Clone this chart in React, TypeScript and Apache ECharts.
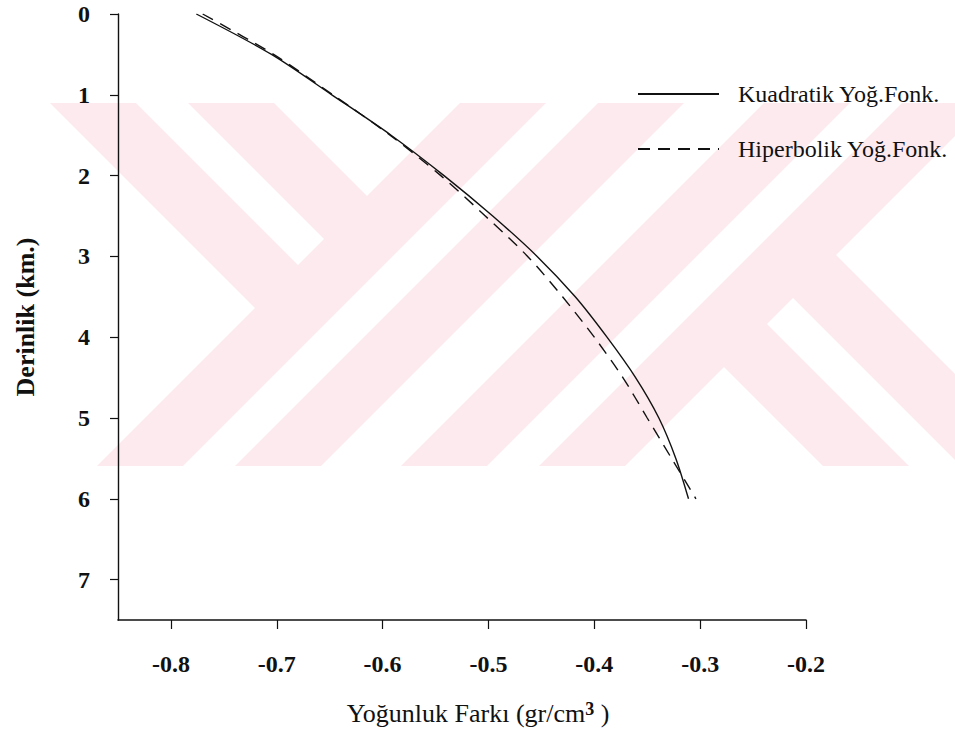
import React, { useEffect, useRef } from 'react';
import * as echarts from 'echarts';

// ---- data ----
const depthKm = [0, 0.5, 1, 1.5, 2, 2.5, 3, 3.5, 4, 4.5, 5, 5.5, 6];
const kuadratik = [-0.776, -0.705, -0.648, -0.592, -0.542, -0.496, -0.454, -0.418, -0.388, -0.361, -0.339, -0.323, -0.311];
const hiperbolik = [-0.770, -0.703, -0.647, -0.593, -0.545, -0.503, -0.463, -0.430, -0.400, -0.373, -0.350, -0.327, -0.304];
const xTicks = [-0.8, -0.7, -0.6, -0.5, -0.4, -0.3, -0.2];
const yTicks = [0, 1, 2, 3, 4, 5, 6, 7];
const seriesNames = ['Kuadratik Yoğ.Fonk.', 'Hiperbolik Yoğ.Fonk.'];
const xTitle = 'Yoğunluk Farkı (gr/cm{s|3}{n| )}';
const yTitle = 'Derinlik (km.)';

// ---- watermark geometry (pixel layout of the scanned background) ----
const WM_TOP = 103;
const WM_BOTTOM = 466;
// [centreX, centreY, which half of the "\" arm is present: -1 upper-left, 1 lower-right]
const WM_CROSSES = [
  [367, 308, -1],
  [724, 255, 1],
];
const WM_HALF = 112;
const WM_STRIPE = 26;
const PINK = '#fdeaee';
const INK = '#111';
const FONT = 'Liberation Serif, Times New Roman, serif';

function buildWatermark() {
  const T = WM_TOP;
  const B = WM_BOTTOM;
  const h = WM_HALF;
  const s = WM_STRIPE;
  const I = (p: number, q: number) => [(p + q) / 2, (q - p) / 2];
  const pinks: any[] = [];
  const whites: any[] = [];
  WM_CROSSES.forEach(([cx, cy, half]) => {
    const c0 = cx - cy;
    const c1 = cx + cy;
    pinks.push([[c1 - h - T, T], [c1 + h - T, T], [c1 + h - B, B], [c1 - h - B, B]]);
    whites.push([[c1 - s - T, T], [c1 + s - T, T], [c1 + s - B, B], [c1 - s - B, B]]);
    if (half < 0) {
      pinks.push([[c0 - h + T, T], [c0 + h + T, T], I(c0 + h, c1), I(c0 - h, c1)]);
      whites.push([[c0 - s + T, T], [c0 + s + T, T], I(c0 + s, c1 - h), I(c0 - s, c1 - h)]);
    } else {
      pinks.push([I(c0 - h, c1), I(c0 + h, c1), [c0 + h + B, B], [c0 - h + B, B]]);
      whites.push([I(c0 - s, c1 + h), I(c0 + s, c1 + h), [c0 + s + B, B], [c0 - s + B, B]]);
    }
  });
  const els: any[] = [];
  pinks.forEach((pts) =>
    els.push({ type: 'polygon', silent: true, z: -20, shape: { points: pts }, style: { fill: PINK } })
  );
  whites.forEach((pts) =>
    els.push({ type: 'polygon', silent: true, z: -19, shape: { points: pts }, style: { fill: '#ffffff' } })
  );
  return els;
}

export default function App() {
  const ref = useRef<HTMLDivElement>(null);

  useEffect(() => {
    document.body.style.margin = '0';
    if (!ref.current) return;
    const chart = echarts.init(ref.current, undefined, { renderer: 'svg' });

    const toPairs = (vals: number[]) => vals.map((v, i) => [v, depthKm[i]]);

    chart.setOption({
      animation: false,
      backgroundColor: '#ffffff',
      textStyle: { fontFamily: FONT },
      graphic: { elements: buildWatermark() },
      grid: { left: 118, right: 149, top: 14, bottom: 114, containLabel: false },
      legend: {
        orient: 'vertical',
        left: 632,
        top: 76,
        itemWidth: 81,
        itemHeight: 14,
        itemGap: 29,
        data: seriesNames,
        itemStyle: { opacity: 0 },
        textStyle: {
          fontFamily: FONT,
          fontSize: 24,
          color: INK,
          lineHeight: 26,
          padding: [0, 0, 0, 14],
        },
      },
      xAxis: {
        type: 'value',
        min: -0.85,
        max: -0.2,
        name: xTitle,
        nameLocation: 'middle',
        nameGap: 80,
        nameTextStyle: {
          fontFamily: FONT,
          fontSize: 26,
          color: INK,
          padding: [0, 0, 0, 32],
          rich: {
            s: { fontFamily: FONT, fontSize: 18, fontWeight: 'bold', color: INK, verticalAlign: 'top' },
            n: { fontFamily: FONT, fontSize: 26, color: INK },
          },
        },
        axisLine: { show: true, onZero: false, lineStyle: { color: INK, width: 1.6 } },
        axisTick: { show: true, length: 9, inside: false, customValues: xTicks, lineStyle: { color: INK, width: 1.2 } },
        axisLabel: {
          customValues: xTicks,
          margin: 32,
          fontFamily: FONT,
          fontSize: 24,
          fontWeight: 'bold',
          color: INK,
          formatter: (v: number) => v.toFixed(1),
        },
        splitLine: { show: false },
      },
      yAxis: {
        type: 'value',
        inverse: true,
        min: 0,
        max: 7.5,
        name: yTitle,
        nameLocation: 'middle',
        nameGap: 80,
        nameRotate: 90,
        nameTextStyle: { fontFamily: FONT, fontSize: 26, fontWeight: 'bold', color: INK },
        axisLine: { show: true, onZero: false, lineStyle: { color: INK, width: 1.4 } },
        axisTick: { show: true, length: 8, inside: false, customValues: yTicks, lineStyle: { color: INK, width: 1.2 } },
        axisLabel: {
          customValues: yTicks,
          margin: 28,
          fontFamily: FONT,
          fontSize: 24,
          fontWeight: 'bold',
          color: INK,
        },
        splitLine: { show: false },
      },
      series: [
        {
          name: seriesNames[0],
          type: 'line',
          data: toPairs(kuadratik),
          smooth: 0.3,
          symbol: 'none',
          lineStyle: { color: INK, width: 1.4, type: 'solid' },
          itemStyle: { color: INK },
        },
        {
          name: seriesNames[1],
          type: 'line',
          data: toPairs(hiperbolik),
          smooth: 0.3,
          symbol: 'none',
          lineStyle: { color: INK, width: 1.4, type: [12, 8] },
          itemStyle: { color: INK },
        },
      ],
    });

    return () => chart.dispose();
  }, []);

  return (
    <div
      ref={ref}
      style={{ position: 'absolute', left: 0, top: 0, width: 955, height: 734, background: '#fff' }}
    />
  );
}
